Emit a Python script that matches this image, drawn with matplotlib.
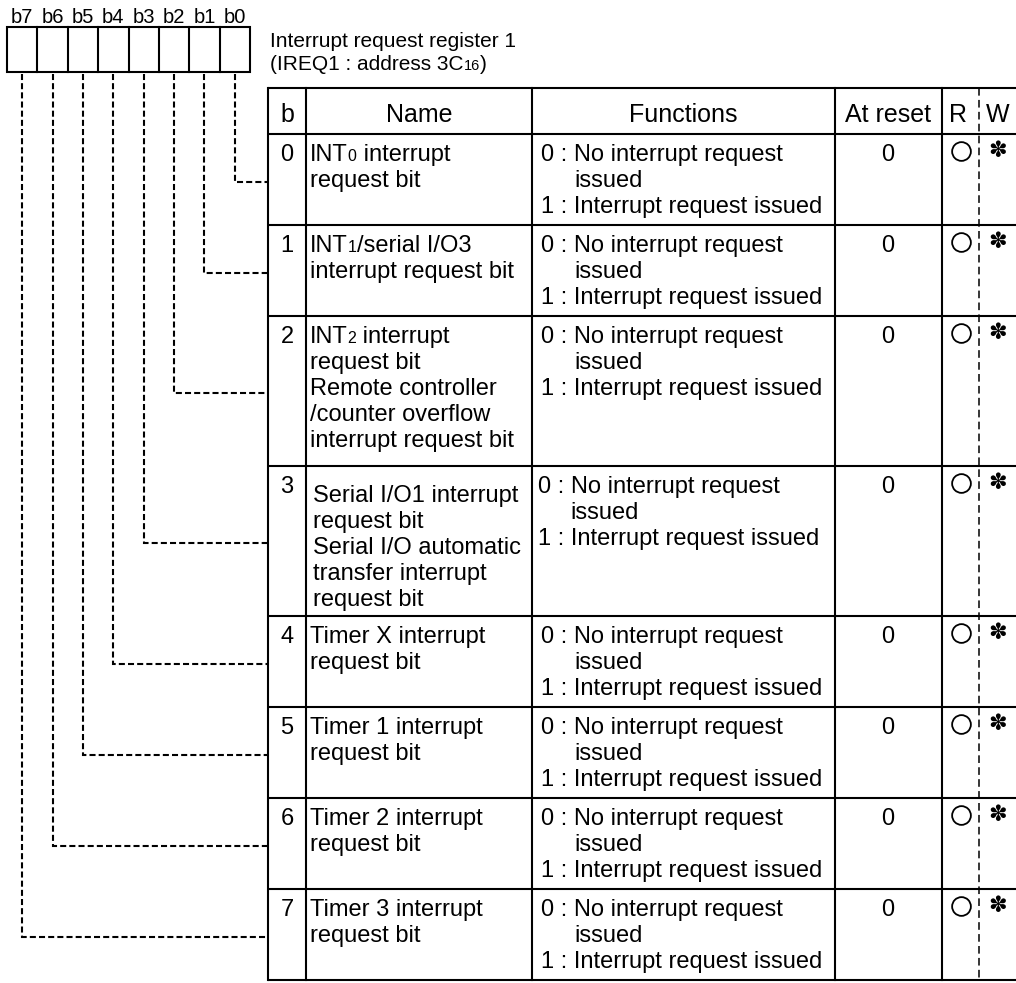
import matplotlib
matplotlib.use("Agg")
import matplotlib.pyplot as plt
import numpy as np
import re

# ---------------- data ----------------
bit_labels = ["b7", "b6", "b5", "b4", "b3", "b2", "b1", "b0"]
title_lines = ["Interrupt request register 1", "(IREQ1 : address 3C{16})"]
headers = ["b", "Name", "Functions", "At reset", "R", "W"]
bit_numbers = ["0", "1", "2", "3", "4", "5", "6", "7"]
names = [
    ["INT{0} interrupt", "request bit"],
    ["INT{1}/serial I/O3", "interrupt request bit"],
    ["INT{2} interrupt", "request bit", "Remote controller",
     "/counter overflow", "interrupt request bit"],
    ["Serial I/O1 interrupt", "request bit", "Serial I/O automatic",
     "transfer interrupt", "request bit"],
    ["Timer X interrupt", "request bit"],
    ["Timer 1 interrupt", "request bit"],
    ["Timer 2 interrupt", "request bit"],
    ["Timer 3 interrupt", "request bit"],
]
func_zero_prefix = "0 : "
func_zero_text = ["No interrupt request", "issued"]
func_one = "1 : Interrupt request issued"
at_reset = ["0"] * 8
readable = ["O"] * 8
writable = ["\u273d"] * 8

# ---------------- layout ----------------
W, H = 1016, 983
FONT = "Liberation Sans"
plt.rcParams["font.family"] = [FONT, "DejaVu Sans"]
fig = plt.figure(figsize=(W / 100, H / 100), dpi=100)
ax = fig.add_axes([0, 0, 1, 1])
ax.set_xlim(0, W)
ax.set_ylim(H, 0)
ax.axis("off")
renderer = fig.canvas.get_renderer()

LW = 1.5
DASH = (0, (2.9, 1.5))
BODY = 17
SUB = 11.5

def text_width(t):
    bb = t.get_window_extent(renderer=renderer)
    return bb.width

def rich(x, y, s, size, sub_size):
    parts = re.split(r"(\{[^}]*\})", s)
    for p in parts:
        if not p:
            continue
        if p.startswith("{"):
            t = ax.text(x, y, p[1:-1], fontsize=sub_size, ha="left", va="baseline")
        else:
            t = ax.text(x, y, p, fontsize=size, ha="left", va="baseline")
        x += text_width(t)
    return x

# register boxes
box_l, box_r, box_t, box_b = 7, 250, 27, 72
edges = np.linspace(box_l, box_r, len(bit_labels) + 1)
centers = (edges[:-1] + edges[1:]) / 2
ax.add_patch(plt.Rectangle((box_l, box_t), box_r - box_l, box_b - box_t,
                           fill=False, lw=LW, ec="black"))
for xe in edges[1:-1]:
    ax.plot([xe, xe], [box_t, box_b], color="black", lw=LW)
for xc, lab in zip(centers, bit_labels):
    ax.text(xc, 23, lab, fontsize=14.5, ha="center", va="baseline")

# title
rich(270, 47, title_lines[0], 15, 10.5)
rich(270, 70, title_lines[1], 15, 10.5)

# table geometry
tab_l, tab_r, tab_t, head_b = 268, 1016, 88, 134
row_edges = [134, 225, 316, 466, 616, 707, 798, 889, 980]
col_x = [268, 306, 532, 835, 942]
rw_x = 979

for y in [tab_t] + row_edges:
    ax.plot([tab_l, tab_r], [y, y], color="black", lw=LW, solid_capstyle="butt")
for x in col_x:
    ax.plot([x, x], [tab_t, row_edges[-1]], color="black", lw=LW)
ax.plot([rw_x, rw_x], [tab_t, row_edges[-1]], color="black", lw=1.1,
        linestyle=(0, (5.0, 2.8)))

# headers
head_x = [287, 419, 683, 888, 958, 998]
for hx, h in zip(head_x, headers):
    ax.text(hx, 122, h, fontsize=18, ha="center", va="baseline")

# connectors (b0 -> row 0 ... b7 -> row 7)
for i, xc in enumerate(centers[::-1]):
    top, bot = row_edges[i], row_edges[i + 1]
    yc = (top + bot) / 2 + 2
    ax.plot([xc, xc, tab_l], [box_b + 2, yc, yc], color="black", lw=LW,
            linestyle=DASH, solid_joinstyle="miter", dash_joinstyle="miter")

# rows
LS = 26
for i in range(8):
    top = row_edges[i]
    base = top + 27
    ax.text(287, base, bit_numbers[i], fontsize=BODY, ha="center", va="baseline")
    name_off = 9 if i == 3 else 0
    name_x = 313 if i == 3 else 310
    for k, line in enumerate(names[i]):
        rich(name_x, base + name_off + k * LS, line, BODY, SUB)
    fx = 538 if i == 3 else 541
    t0 = ax.text(fx, base, func_zero_prefix, fontsize=BODY, ha="left", va="baseline")
    indent = fx + text_width(t0)
    ax.text(indent, base, func_zero_text[0], fontsize=BODY, ha="left", va="baseline")
    ax.text(indent, base + LS, func_zero_text[1], fontsize=BODY, ha="left", va="baseline")
    ax.text(fx, base + 2 * LS, func_one, fontsize=BODY, ha="left", va="baseline")
    ax.text(888, base, at_reset[i], fontsize=BODY, ha="center", va="baseline")
    if readable[i] == "O":
        ax.plot([961], [top + 17], marker="o", ms=13.5, mfc="none", mec="black",
                mew=1.3, linestyle="none")
    ax.text(998, top + 17, writable[i], fontsize=16, ha="center", va="center",
            family=["DejaVu Sans"])

fig.savefig("out.png", dpi=100)
